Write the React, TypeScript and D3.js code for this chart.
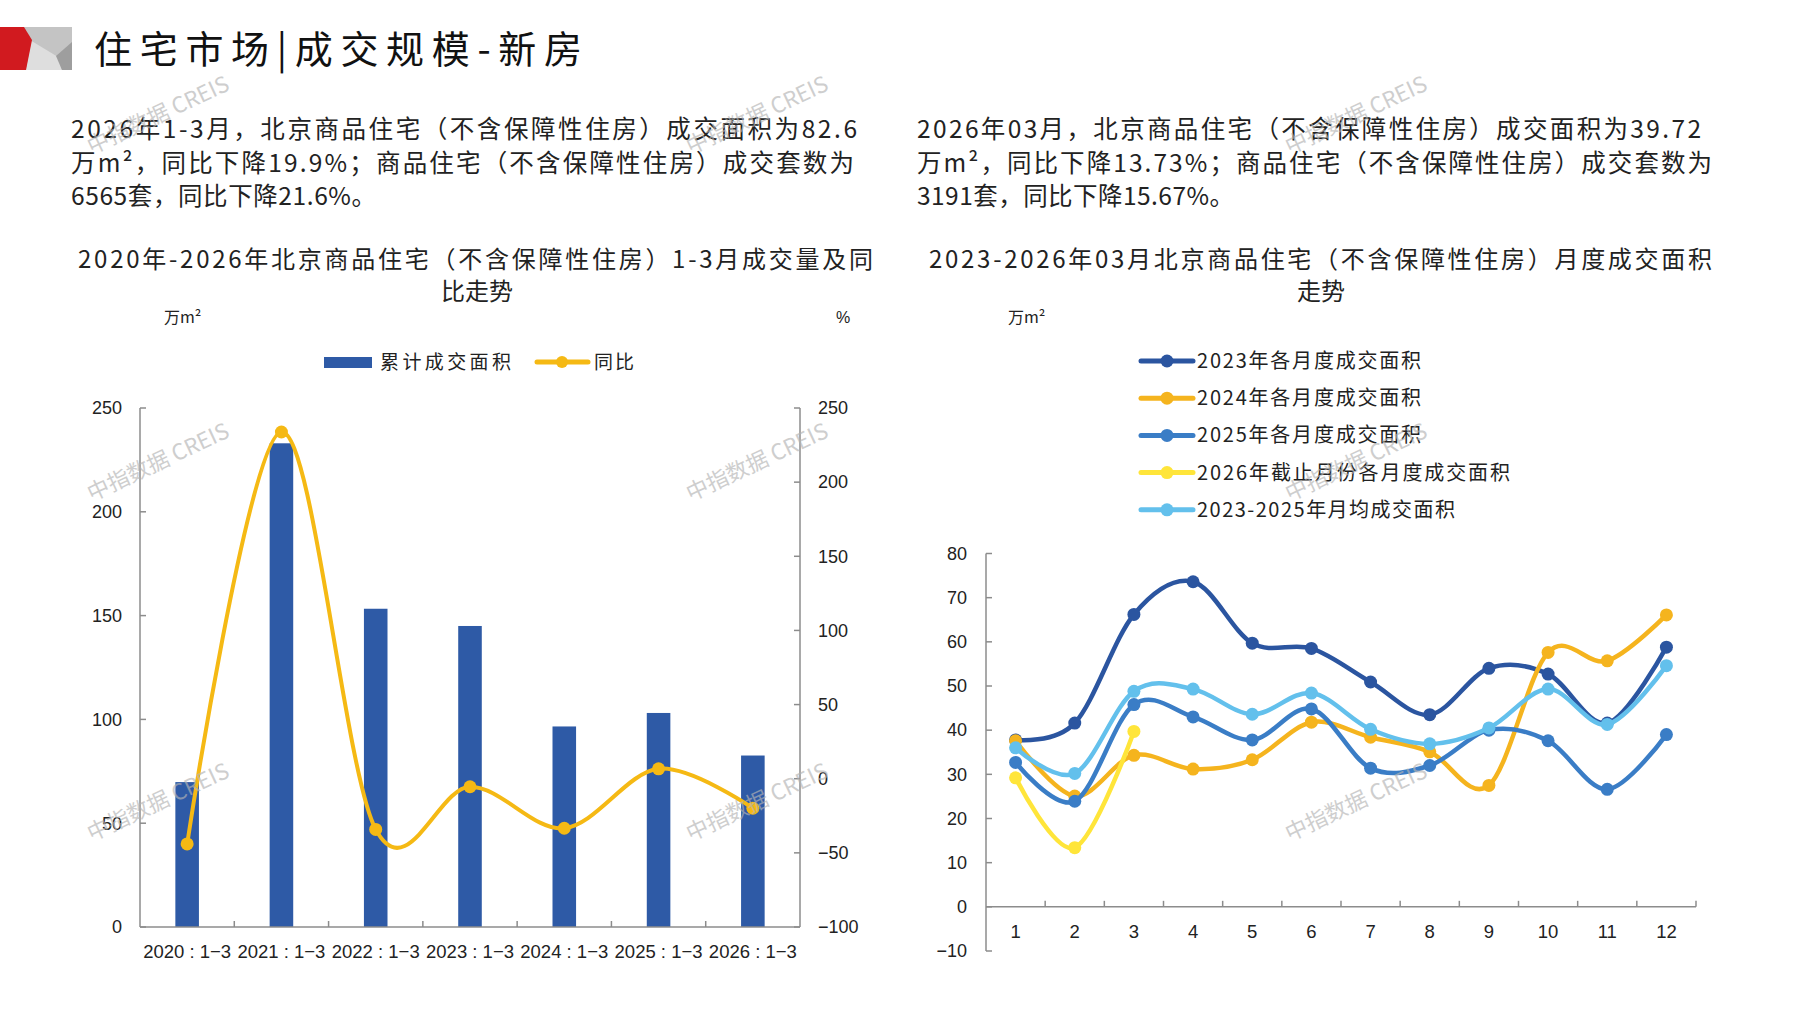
import React from 'react';
import * as d3 from 'd3';

// ---------- data ----------
const leftCategories = ['2020', '2021', '2022', '2023', '2024', '2025', '2026'];
const leftArea = [69.8, 233.0, 153.3, 145.0, 96.6, 103.1, 82.6];
const leftYoY = [-44.0, 233.8, -34.2, -5.4, -33.4, 6.7, -19.9];
const leftAreaTicks = [0, 50, 100, 150, 200, 250];
const leftYoYTicks = [-100, -50, 0, 50, 100, 150, 200, 250];

const months = [1, 2, 3, 4, 5, 6, 7, 8, 9, 10, 11, 12];
const area2023 = [37.8, 41.6, 66.2, 73.6, 59.7, 58.5, 50.9, 43.5, 54.0, 52.7, 41.6, 58.8];
const area2024 = [37.6, 25.1, 34.3, 31.2, 33.3, 41.8, 38.4, 35.1, 27.5, 57.6, 55.7, 66.1];
const area2025 = [32.7, 23.9, 45.8, 43.0, 37.8, 44.8, 31.4, 32.0, 40.0, 37.6, 26.6, 39.0];
const area2026 = [29.2, 13.4, 39.72];
const areaAvg = [36.0, 30.2, 48.8, 49.3, 43.6, 48.4, 40.2, 36.9, 40.5, 49.3, 41.3, 54.6];
const rightTicks = [-10, 0, 10, 20, 30, 40, 50, 60, 70, 80];

const rightSeriesNames = [
  '2023年各月度成交面积',
  '2024年各月度成交面积',
  '2025年各月度成交面积',
  '2026年截止月份各月度成交面积',
  '2023-2025年月均成交面积',
];

const paraLeft = [
  '2026年1-3月，北京商品住宅（不含保障性住房）成交面积为82.6',
  '万m²，同比下降19.9%；商品住宅（不含保障性住房）成交套数为',
  '6565套，同比下降21.6%。',
];
const paraRight = [
  '2026年03月，北京商品住宅（不含保障性住房）成交面积为39.72',
  '万m²，同比下降13.73%；商品住宅（不含保障性住房）成交套数为',
  '3191套，同比下降15.67%。',
];

// ---------- styles ----------
const CJK = "'Noto Sans CJK SC', 'Noto Sans', sans-serif";
const NUM = "'Liberation Sans', Arial, sans-serif";
const AXIS = '#8c8c8c';
const TXT = '#222222';
const BAR = '#2E5AA6';
const YOY = '#F5B914';
const C2023 = '#2B55A0';
const C2024 = '#F5B41E';
const C2025 = '#3A7DC6';
const C2026 = '#FFE53A';
const CAVG = '#63C0EC';
const seriesColors = [C2023, C2024, C2025, C2026, CAVG];
const legendLengths = [224, 224, 224, 313, 258];

const minus = (v: number) => (v < 0 ? '\u2212' + Math.abs(v) : String(v));

function LeftChart() {
  const x = d3.scaleBand<string>().domain(leftCategories).range([140, 800]);
  const yL = d3.scaleLinear().domain([0, 250]).range([927, 408]);
  const yR = d3.scaleLinear().domain([-100, 250]).range([927, 408]);
  const bw = x.bandwidth();
  const barW = bw * 0.25;
  const cx = (c: string) => (x(c) as number) + bw / 2;
  const line = d3
    .line<number>()
    .x((_, i) => cx(leftCategories[i]))
    .y((d) => yR(d))
    .curve(d3.curveCardinal.tension(0));
  return (
    <g>
      {leftArea.map((v, i) => (
        <rect key={i} x={cx(leftCategories[i]) - barW / 2} y={yL(v)} width={barW} height={yL(0) - yL(v)} fill={BAR} />
      ))}
      <line x1={140} x2={140} y1={yL(250)} y2={yL(0)} stroke={AXIS} strokeWidth={1.5} />
      <line x1={800} x2={800} y1={yR(250)} y2={yR(-100)} stroke={AXIS} strokeWidth={1.5} />
      <line x1={140} x2={800} y1={yL(0)} y2={yL(0)} stroke={AXIS} strokeWidth={1.5} />
      {leftAreaTicks.map((t) => (
        <g key={'l' + t}>
          <line x1={140} x2={146} y1={yL(t)} y2={yL(t)} stroke={AXIS} strokeWidth={1.5} />
          <text x={122} y={yL(t)} dy="0.35em" textAnchor="end" fontFamily={NUM} fontSize={18} fill={TXT}>{t}</text>
        </g>
      ))}
      {leftYoYTicks.map((t) => (
        <g key={'r' + t}>
          <line x1={794} x2={800} y1={yR(t)} y2={yR(t)} stroke={AXIS} strokeWidth={1.5} />
          <text x={818} y={yR(t)} dy="0.35em" textAnchor="start" fontFamily={NUM} fontSize={18} fill={TXT}>{minus(t)}</text>
        </g>
      ))}
      {leftCategories.slice(1).map((c) => (
        <line key={'xt' + c} x1={x(c)} x2={x(c)} y1={yL(0)} y2={yL(0) - 6} stroke={AXIS} strokeWidth={1.5} />
      ))}
      {leftCategories.map((c) => (
        <text key={'xl' + c} x={cx(c)} y={958} textAnchor="middle" fontFamily={NUM} fontSize={18.5} fill={TXT}>
          {c + ' : 1\u22123'}
        </text>
      ))}
      <path d={line(leftYoY) as string} fill="none" stroke={YOY} strokeWidth={4} />
      {leftYoY.map((v, i) => (
        <circle key={'m' + i} cx={cx(leftCategories[i])} cy={yR(v)} r={6.5} fill={YOY} />
      ))}
      <rect x={324} y={357} width={48} height={11} fill={BAR} />
      <text x={380} y={362} dy="0.35em" fontFamily={CJK} fontSize={19} fill={TXT} textLength={131} lengthAdjust="spacing">累计成交面积</text>
      <line x1={537} x2={588} y1={362} y2={362} stroke={YOY} strokeWidth={5} strokeLinecap="round" />
      <circle cx={562} cy={362} r={6} fill={YOY} />
      <text x={594} y={362} dy="0.35em" fontFamily={CJK} fontSize={19} fill={TXT} textLength={40} lengthAdjust="spacing">同比</text>
      <text x={164} y={317} dy="0.35em" fontFamily={CJK} fontSize={16} fill={TXT}>万m²</text>
      <text x={843} y={317} dy="0.35em" textAnchor="middle" fontFamily={NUM} fontSize={16} fill={TXT}>%</text>
      <text x={78} y={268} fontFamily={CJK} fontSize={24} fill={TXT} textLength={795} lengthAdjust="spacing">
        2020年-2026年北京商品住宅（不含保障性住房）1-3月成交量及同
      </text>
      <text x={477} y={300} textAnchor="middle" fontFamily={CJK} fontSize={24} fill={TXT}>比走势</text>
    </g>
  );
}

function RightChart() {
  const x = d3.scaleBand<number>().domain(months).range([986, 1696]);
  const y = d3.scaleLinear().domain([-10, 80]).range([951, 553.5]);
  const bw = x.bandwidth();
  const cx = (m: number) => (x(m) as number) + bw / 2;
  const line = d3
    .line<number>()
    .x((_, i) => cx(months[i]))
    .y((d) => y(d))
    .curve(d3.curveCardinal.tension(0));
  const series = [area2023, area2024, area2025, area2026, areaAvg];
  return (
    <g>
      <line x1={986} x2={986} y1={y(80)} y2={y(-10)} stroke={AXIS} strokeWidth={1.5} />
      <line x1={986} x2={1696} y1={y(0)} y2={y(0)} stroke={AXIS} strokeWidth={1.5} />
      {rightTicks.map((t) => (
        <g key={'t' + t}>
          <line x1={986} x2={992} y1={y(t)} y2={y(t)} stroke={AXIS} strokeWidth={1.5} />
          <text x={967} y={y(t)} dy="0.35em" textAnchor="end" fontFamily={NUM} fontSize={18} fill={TXT}>{minus(t)}</text>
        </g>
      ))}
      {months.map((m) => (
        <g key={'x' + m}>
          <line x1={(x(m) as number) + bw} x2={(x(m) as number) + bw} y1={y(0)} y2={y(0) - 6} stroke={AXIS} strokeWidth={1.5} />
          <text x={cx(m)} y={938} textAnchor="middle" fontFamily={NUM} fontSize={18.5} fill={TXT}>{m}</text>
        </g>
      ))}
      {series.map((s, si) => (
        <g key={'s' + si}>
          <path d={line(s) as string} fill="none" stroke={seriesColors[si]} strokeWidth={4.5} />
          {s.map((v, i) => (
            <circle key={i} cx={cx(months[i])} cy={y(v)} r={6.5} fill={seriesColors[si]} />
          ))}
        </g>
      ))}
      {rightSeriesNames.map((n, i) => {
        const ly = 361 + i * 37.2;
        return (
          <g key={'lg' + i}>
            <line x1={1141} x2={1193} y1={ly} y2={ly} stroke={seriesColors[i]} strokeWidth={5} strokeLinecap="round" />
            <circle cx={1167} cy={ly} r={6.5} fill={seriesColors[i]} />
            <text x={1197} y={ly} dy="0.35em" fontFamily={CJK} fontSize={20} fill={TXT}
              textLength={legendLengths[i]} lengthAdjust="spacing">{n}</text>
          </g>
        );
      })}
      <text x={1008} y={317} dy="0.35em" fontFamily={CJK} fontSize={16} fill={TXT}>万m²</text>
      <text x={929} y={268} fontFamily={CJK} fontSize={24} fill={TXT} textLength={783} lengthAdjust="spacing">
        2023-2026年03月北京商品住宅（不含保障性住房）月度成交面积
      </text>
      <text x={1321} y={300} textAnchor="middle" fontFamily={CJK} fontSize={24} fill={TXT}>走势</text>
    </g>
  );
}

function Header() {
  return (
    <g>
      <polygon points="24,27 72,27 72,70 26,70" fill="#c4c4c4" />
      <polygon points="30,40 58,57 62,70 26,70" fill="#dedede" />
      <polygon points="56,56 72,42 72,70 62,70" fill="#9e9e9e" />
      <polygon points="0,27 24,27 32,40 26,70 0,70" fill="#d11a1f" />
      <text x={94} y={63} fontFamily={CJK} fontSize={38} fill="#111" textLength={488} lengthAdjust="spacing">
        住宅市场|成交规模-新房
      </text>
      {paraLeft.map((t, i) => (
        <text key={'pl' + i} x={71} y={138 + i * 33.5} fontFamily={CJK} fontSize={24.5} fill={TXT}
          textLength={[786, 783, 305][i]} lengthAdjust="spacing">{t}</text>
      ))}
      {paraRight.map((t, i) => (
        <text key={'pr' + i} x={917} y={138 + i * 33.5} fontFamily={CJK} fontSize={24.5} fill={TXT}
          textLength={[784, 795, 317][i]} lengthAdjust="spacing">{t}</text>
      ))}
    </g>
  );
}

function Watermarks() {
  const xs = [158, 757, 1356];
  const ys = [115, 462, 802];
  return (
    <g>
      {ys.map((yy) =>
        xs.map((xx) => (
          <text key={xx + '-' + yy} x={xx} y={yy} textAnchor="middle" dy="0.35em"
            transform={`rotate(-25 ${xx} ${yy})`} fontFamily={CJK} fontSize={22}
            fill="#b4b4b4" opacity={0.65}>中指数据 CREIS</text>
        ))
      )}
    </g>
  );
}

export default function App() {
  return (
    <svg width={1797} height={1010} viewBox="0 0 1797 1010"
      style={{ position: 'absolute', left: 0, top: 0, background: '#fff' }}>
      <rect x={0} y={0} width={1797} height={1010} fill="#fff" />
      <Header />
      <LeftChart />
      <RightChart />
      <Watermarks />
    </svg>
  );
}
